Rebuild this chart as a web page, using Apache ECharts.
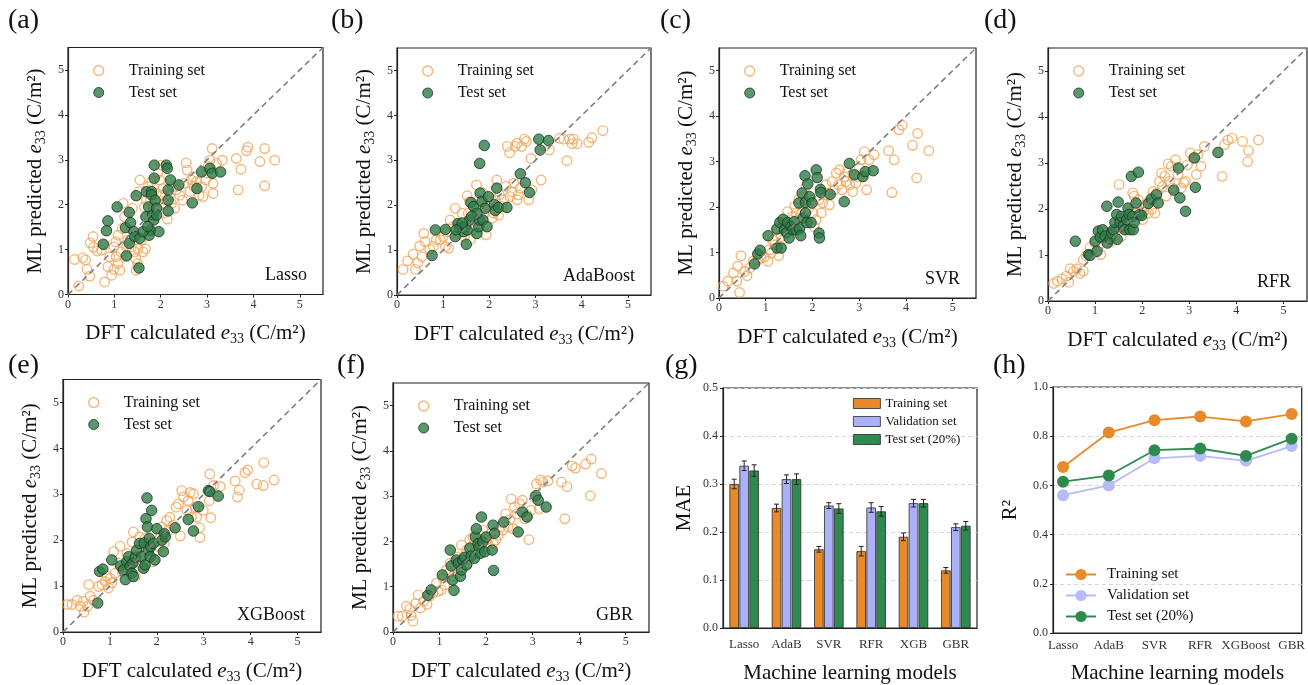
<!DOCTYPE html>
<html><head><meta charset="utf-8">
<script src="https://cdn.jsdelivr.net/npm/echarts@6/dist/echarts.min.js"></script>
<style>html,body{margin:0;padding:0;background:#fff}#c{width:1308px;height:685px}</style>
</head><body><div id="c"></div>
<script>
// ---------- DATA ----------
const lassoTrain = [[0.14,0.78],[0.23,0.19],[0.32,0.82],[0.38,0.77],[0.41,0.56],[0.47,0.41],[0.48,1.15],[0.54,1.29],[0.55,1.05],[0.63,0.97],[0.72,0.99],[0.79,1.10],[0.79,0.28],[0.86,0.62],[0.90,0.84],[0.94,0.43],[0.99,0.56],[0.99,1.06],[1.03,1.17],[1.04,0.84],[1.08,1.32],[1.08,0.69],[1.12,0.54],[1.14,0.95],[1.17,1.47],[1.19,2.03],[1.22,1.73],[1.26,1.06],[1.29,1.21],[1.37,1.06],[1.39,1.92],[1.44,0.95],[1.46,0.80],[1.47,0.54],[1.50,0.69],[1.51,1.02],[1.53,2.29],[1.55,2.55],[1.58,1.21],[1.62,0.95],[1.65,1.95],[1.67,1.02],[1.69,2.10],[1.73,2.40],[1.76,1.66],[1.78,2.10],[1.80,2.51],[1.83,1.95],[1.87,2.03],[1.91,2.25],[1.94,2.70],[1.98,2.55],[2.01,2.88],[2.03,2.21],[2.05,2.36],[2.06,1.81],[2.09,2.03],[2.12,2.10],[2.14,1.68],[2.19,2.21],[2.23,2.03],[2.27,2.40],[2.30,1.92],[2.34,2.33],[2.41,2.21],[2.47,2.10],[2.50,2.47],[2.55,2.93],[2.57,2.77],[2.63,2.29],[2.66,2.55],[2.70,2.62],[2.72,2.40],[2.77,2.51],[2.83,2.21],[2.88,2.40],[2.91,2.18],[2.97,2.55],[3.00,2.70],[3.02,2.85],[3.06,2.99],[3.11,3.25],[3.13,2.47],[3.13,2.25],[3.20,2.92],[3.33,2.99],[3.63,3.03],[3.67,2.33],[3.73,2.79],[3.85,3.20],[3.88,3.28],[4.14,2.96],[4.24,3.25],[4.24,2.42],[4.46,2.99]];
const lassoTest = [[0.76,1.12],[0.83,1.42],[0.86,1.64],[1.06,1.95],[1.26,0.86],[1.53,0.59],[1.24,1.49],[1.32,1.83],[1.35,1.60],[1.32,1.14],[1.42,1.40],[1.47,2.20],[1.44,1.29],[1.55,1.25],[1.68,1.73],[1.69,2.29],[1.74,1.95],[1.80,2.29],[1.80,2.22],[1.78,1.43],[1.75,1.32],[1.83,1.77],[1.85,1.66],[1.86,2.88],[1.86,2.59],[1.88,2.10],[1.91,1.92],[1.96,1.40],[2.12,2.88],[2.14,2.81],[2.16,2.33],[2.16,2.10],[2.16,1.86],[2.21,2.55],[2.39,2.44],[2.68,2.04],[2.78,2.36],[2.88,2.73],[3.06,2.81],[3.11,2.70],[3.29,2.73],[1.62,1.40],[1.72,1.51],[1.91,1.77]];

const adaTrain = [[0.13,0.57],[0.23,0.76],[0.35,0.91],[0.40,0.57],[0.45,0.71],[0.49,1.09],[0.54,0.85],[0.58,1.37],[0.61,1.19],[0.71,1.02],[0.79,1.08],[0.85,1.23],[0.94,1.23],[1.00,1.30],[1.05,1.08],[1.08,1.41],[1.12,1.04],[1.15,1.67],[1.21,1.52],[1.26,1.93],[1.33,1.37],[1.41,1.82],[1.46,1.30],[1.52,2.21],[1.54,1.82],[1.57,2.08],[1.59,1.23],[1.65,1.45],[1.72,2.45],[1.73,1.97],[1.77,2.12],[1.86,2.27],[1.89,1.82],[1.93,1.34],[1.96,1.97],[2.02,2.08],[2.06,1.71],[2.09,1.82],[2.13,2.12],[2.16,2.56],[2.20,1.78],[2.22,2.23],[2.27,1.97],[2.31,2.12],[2.36,2.42],[2.39,3.31],[2.44,3.17],[2.45,2.19],[2.49,2.30],[2.53,2.49],[2.56,3.31],[2.60,3.38],[2.60,2.12],[2.63,2.23],[2.67,2.38],[2.70,3.31],[2.76,3.47],[2.80,3.42],[2.85,2.12],[2.90,3.04],[2.92,2.34],[3.12,2.56],[3.21,3.32],[3.30,3.23],[3.52,3.49],[3.61,3.47],[3.68,2.99],[3.74,3.47],[3.79,3.37],[3.82,3.47],[3.90,3.37],[4.15,3.40],[4.22,3.50],[4.46,3.66]];
const adaTest = [[0.76,0.88],[0.83,1.45],[1.05,1.46],[1.26,1.30],[1.32,1.59],[1.36,1.49],[1.44,1.41],[1.48,1.52],[1.52,1.45],[1.50,1.13],[1.57,1.67],[1.60,2.06],[1.66,1.97],[1.73,1.37],[1.77,1.52],[1.79,1.67],[1.79,2.93],[1.80,2.27],[1.84,2.08],[1.86,1.67],[1.89,3.33],[1.91,1.93],[1.95,1.52],[1.98,2.19],[2.11,2.01],[2.13,1.88],[2.16,2.38],[2.20,1.95],[2.38,1.95],[2.67,2.70],[2.78,2.50],[2.87,2.28],[3.07,3.47],[3.10,3.23],[3.28,3.44],[1.73,1.82],[1.62,1.75],[1.41,1.60],[1.28,1.45]];

const svrTrain = [[0.09,0.26],[0.19,0.37],[0.31,0.55],[0.38,0.37],[0.40,0.70],[0.44,0.12],[0.47,0.93],[0.55,0.59],[0.60,0.49],[0.66,0.66],[0.73,0.81],[0.83,0.84],[0.90,0.88],[0.97,0.90],[1.05,0.81],[1.08,1.06],[1.12,0.99],[1.15,1.28],[1.19,1.17],[1.23,1.50],[1.28,0.93],[1.33,1.35],[1.37,1.28],[1.42,1.43],[1.47,1.90],[1.51,1.59],[1.57,1.79],[1.62,2.01],[1.65,1.87],[1.71,2.17],[1.72,1.76],[1.76,1.87],[1.79,2.23],[1.86,2.45],[1.92,1.98],[1.97,2.16],[2.01,1.87],[2.04,1.57],[2.08,1.72],[2.14,2.16],[2.19,1.87],[2.22,2.09],[2.26,2.27],[2.29,2.49],[2.33,2.31],[2.36,2.05],[2.42,2.56],[2.47,2.38],[2.51,2.75],[2.56,2.49],[2.58,2.82],[2.63,2.38],[2.68,2.67],[2.72,2.56],[2.75,2.78],[2.80,2.49],[2.86,2.34],[2.93,2.53],[2.97,2.67],[3.00,2.86],[3.04,3.04],[3.11,3.22],[3.16,2.38],[3.21,3.04],[3.32,3.15],[3.63,3.24],[3.70,2.32],[3.75,3.04],[3.85,3.70],[3.92,3.80],[4.14,3.36],[4.25,3.62],[4.23,2.64],[4.49,3.24]];
const svrTest = [[0.76,0.75],[0.83,0.97],[0.88,1.05],[1.05,1.37],[1.24,1.10],[1.33,1.10],[1.24,1.52],[1.30,1.66],[1.37,1.73],[1.40,1.50],[1.45,1.44],[1.50,1.32],[1.47,1.66],[1.54,1.57],[1.58,1.50],[1.61,1.68],[1.65,1.50],[1.71,2.09],[1.72,1.52],[1.75,1.37],[1.78,2.31],[1.80,1.76],[1.84,2.69],[1.85,2.10],[1.85,1.87],[1.88,1.66],[1.90,2.51],[1.94,2.23],[1.97,1.66],[1.99,2.09],[2.08,2.82],[2.10,2.65],[2.14,1.43],[2.15,1.32],[2.17,2.39],[2.18,2.32],[2.38,2.28],[2.68,2.12],[2.79,2.96],[2.90,2.71],[3.08,2.67],[3.13,2.78],[3.30,2.80]];

const rfrTrain = [[0.12,0.38],[0.20,0.43],[0.30,0.48],[0.39,0.54],[0.44,0.41],[0.47,0.70],[0.54,0.65],[0.61,0.70],[0.68,0.60],[0.75,0.65],[0.75,0.90],[0.81,0.98],[0.89,1.16],[1.00,1.26],[1.07,1.18],[1.12,1.01],[1.16,1.39],[1.19,1.52],[1.25,1.48],[1.32,1.28],[1.37,1.45],[1.42,1.42],[1.46,1.55],[1.51,2.53],[1.53,1.63],[1.56,1.41],[1.60,1.69],[1.63,1.55],[1.67,1.86],[1.70,1.73],[1.75,1.95],[1.80,2.35],[1.83,2.28],[1.87,2.02],[1.92,2.20],[1.94,1.91],[2.01,1.77],[2.04,1.95],[2.08,2.06],[2.13,1.91],[2.16,2.20],[2.20,1.99],[2.23,2.38],[2.27,1.91],[2.32,2.35],[2.37,2.60],[2.41,2.78],[2.43,2.49],[2.48,2.71],[2.51,2.28],[2.55,2.98],[2.58,2.60],[2.62,2.93],[2.65,2.46],[2.71,3.07],[2.76,2.75],[2.83,2.46],[2.88,2.57],[2.92,2.60],[2.96,2.96],[3.02,3.22],[3.08,3.11],[3.15,2.75],[3.18,3.18],[3.25,2.93],[3.32,3.36],[3.70,2.71],[3.75,3.40],[3.82,3.50],[3.91,3.54],[4.13,3.47],[4.26,3.27],[4.24,3.03],[4.47,3.50]];
const rfrTest = [[0.58,1.30],[0.86,1.01],[0.89,0.99],[1.00,1.30],[1.04,1.08],[1.07,1.52],[1.11,1.39],[1.16,1.55],[1.21,1.41],[1.25,2.06],[1.26,1.26],[1.32,1.35],[1.35,1.48],[1.39,1.55],[1.42,1.71],[1.46,1.88],[1.47,1.34],[1.49,2.15],[1.53,1.71],[1.56,1.84],[1.60,1.63],[1.63,1.55],[1.67,1.77],[1.70,2.02],[1.72,1.88],[1.74,1.55],[1.77,2.71],[1.80,1.84],[1.81,1.55],[1.83,1.71],[1.87,2.13],[1.92,2.80],[1.95,1.88],[1.99,1.86],[2.13,2.12],[2.20,2.22],[2.30,2.31],[2.34,2.13],[2.67,2.41],[2.77,2.89],[2.80,2.24],[2.92,1.95],[3.11,3.11],[3.13,2.47],[3.61,3.23]];

const xgbTrain = [[0.09,0.60],[0.19,0.60],[0.30,0.69],[0.37,0.56],[0.43,0.67],[0.45,0.43],[0.52,0.56],[0.55,1.03],[0.58,0.78],[0.65,0.69],[0.76,0.99],[0.83,1.03],[0.90,1.10],[0.94,1.22],[0.97,0.96],[1.01,1.17],[1.04,1.07],[1.08,1.75],[1.11,1.28],[1.18,1.50],[1.22,1.87],[1.26,1.32],[1.30,1.39],[1.36,1.71],[1.42,1.32],[1.47,1.96],[1.50,2.18],[1.54,1.21],[1.57,1.64],[1.63,2.07],[1.65,1.64],[1.68,1.42],[1.72,1.86],[1.75,2.04],[1.79,1.82],[1.84,1.93],[1.89,2.14],[1.93,1.53],[1.99,1.78],[2.04,1.86],[2.07,2.07],[2.11,2.29],[2.16,1.93],[2.21,2.43],[2.25,2.22],[2.28,2.50],[2.35,2.32],[2.41,2.72],[2.46,2.79],[2.50,2.09],[2.53,3.08],[2.57,2.94],[2.64,2.65],[2.67,2.86],[2.71,3.04],[2.74,2.50],[2.78,3.01],[2.82,2.72],[2.85,2.50],[2.91,2.27],[2.92,2.06],[2.99,2.65],[3.13,3.44],[3.12,2.86],[3.15,2.49],[3.21,3.19],[3.35,3.17],[3.67,3.29],[3.72,2.94],[3.76,3.09],[3.88,3.47],[3.94,3.53],[4.13,3.22],[4.27,3.19],[4.28,3.69],[4.50,3.31]];
const xgbTest = [[0.74,0.63],[0.78,1.32],[0.85,1.37],[1.04,1.57],[1.23,1.44],[1.29,1.35],[1.33,1.14],[1.36,1.53],[1.40,1.64],[1.43,1.44],[1.47,1.28],[1.49,1.50],[1.50,1.21],[1.54,1.63],[1.57,1.78],[1.63,1.93],[1.68,1.64],[1.72,1.39],[1.73,1.94],[1.75,1.46],[1.77,2.47],[1.79,2.92],[1.80,2.29],[1.82,1.78],[1.84,2.04],[1.86,1.64],[1.87,1.86],[1.89,2.65],[1.93,1.93],[1.96,1.57],[2.00,2.25],[2.11,2.00],[2.14,1.75],[2.16,2.14],[2.18,2.07],[2.39,2.27],[2.67,2.45],[2.78,2.20],[2.89,2.73],[3.10,3.08],[3.13,3.06],[3.31,2.96]];

const gbrTrain = [[0.11,0.35],[0.20,0.35],[0.29,0.57],[0.36,0.51],[0.39,0.36],[0.43,0.24],[0.49,0.63],[0.54,0.82],[0.59,0.53],[0.66,0.68],[0.73,0.61],[0.79,0.79],[0.86,0.86],[0.93,1.08],[0.97,0.90],[1.04,0.93],[1.07,1.19],[1.11,1.04],[1.15,1.37],[1.20,1.30],[1.23,1.52],[1.29,1.23],[1.33,1.46],[1.38,1.66],[1.42,1.55],[1.47,1.92],[1.52,1.66],[1.58,1.81],[1.61,1.52],[1.65,2.04],[1.68,1.88],[1.72,2.10],[1.75,1.96],[1.83,2.18],[1.86,1.85],[1.93,2.25],[2.00,1.96],[2.06,2.07],[2.11,2.18],[2.15,1.96],[2.21,2.03],[2.26,2.14],[2.31,2.32],[2.36,2.25],[2.42,2.61],[2.47,2.32],[2.51,2.48],[2.54,2.94],[2.58,2.28],[2.61,2.76],[2.66,2.61],[2.72,2.83],[2.78,2.91],[2.83,2.50],[2.88,2.58],[2.92,2.04],[2.97,2.69],[3.04,2.98],[3.08,3.27],[3.14,2.72],[3.17,3.36],[3.22,3.31],[3.33,3.34],[3.62,3.31],[3.69,2.50],[3.74,3.21],[3.85,3.67],[3.92,3.62],[4.14,3.71],[4.26,3.82],[4.24,3.01],[4.48,3.50]];
const gbrTest = [[0.75,0.81],[0.82,0.93],[1.06,1.26],[1.23,1.81],[1.25,1.46],[1.28,1.15],[1.31,0.92],[1.36,1.59],[1.40,1.52],[1.45,1.23],[1.47,1.37],[1.50,1.59],[1.54,1.65],[1.58,1.48],[1.65,1.85],[1.68,1.68],[1.75,1.63],[1.77,2.10],[1.79,2.28],[1.83,1.95],[1.85,1.87],[1.88,1.74],[1.90,2.54],[1.93,1.99],[1.97,1.77],[2.00,2.10],[2.13,1.81],[2.15,2.36],[2.16,1.36],[2.18,2.18],[2.38,2.43],[2.69,2.21],[2.78,2.65],[2.88,2.54],[3.07,3.01],[3.12,2.91],[3.29,2.76]];

const parityTicks = [0, 1, 2, 3, 4, 5];
const parityRange = [0, 5.5];

const barModels = ['Lasso', 'AdaB', 'SVR', 'RFR', 'XGB', 'GBR'];
const maeTrain = [0.300, 0.250, 0.164, 0.160, 0.190, 0.120];
const maeTrainErr = [0.010, 0.008, 0.006, 0.010, 0.008, 0.006];
const maeVal = [0.338, 0.310, 0.255, 0.251, 0.260, 0.210];
const maeValErr = [0.010, 0.009, 0.006, 0.010, 0.008, 0.007];
const maeTest = [0.328, 0.310, 0.249, 0.243, 0.260, 0.213];
const maeTestErr = [0.012, 0.011, 0.010, 0.010, 0.008, 0.009];

const r2Models = ['Lasso', 'AdaB', 'SVR', 'RFR', 'XGBoost', 'GBR'];
const r2Train = [0.675, 0.815, 0.865, 0.880, 0.860, 0.890];
const r2Val = [0.560, 0.600, 0.710, 0.720, 0.700, 0.760];
const r2Test = [0.615, 0.640, 0.743, 0.750, 0.720, 0.790];

// ---------- STYLE / LAYOUT ----------
const FONT = '"Liberation Serif", "DejaVu Serif", serif';
const ORANGE_S = '#F2A65A';
const GREEN_S = '#2F7D48';
const ORANGE = '#E98A2A';
const LAV = '#AAB1F6';
const GREEN = '#2E8A4E';

const scatterPanels = [
  {tag:'(a)', model:'Lasso',    train:lassoTrain, test:lassoTest, box:[68, 47.5, 255, 247], tagPos:[8, 21]},
  {tag:'(b)', model:'AdaBoost', train:adaTrain,   test:adaTest,   box:[397, 48, 254, 247], tagPos:[331, 21]},
  {tag:'(c)', model:'SVR',      train:svrTrain,   test:svrTest,   box:[719, 48, 257, 250], tagPos:[660, 21]},
  {tag:'(d)', model:'RFR',      train:rfrTrain,   test:rfrTest,   box:[1048, 48, 259, 253], tagPos:[984, 21]},
  {tag:'(e)', model:'XGBoost',  train:xgbTrain,   test:xgbTest,   box:[63, 379.5, 258, 255], tagPos:[8, 366]},
  {tag:'(f)', model:'GBR',      train:gbrTrain,   test:gbrTest,   box:[393, 383, 256, 251], tagPos:[337, 366]}
];
const gBox = [723, 388, 254, 249];
const hBox = [1053, 387, 252, 248];

const tickLabel = {fontFamily: FONT, fontSize: 12, color: '#333'};
const richName = {
  t: {fontFamily: FONT, fontSize: 21, color: '#111', lineHeight: 26},
  i: {fontFamily: FONT, fontSize: 21, fontStyle: 'italic', color: '#111', lineHeight: 26},
  s: {fontFamily: FONT, fontSize: 14, color: '#111', lineHeight: 14, verticalAlign: 'bottom'}
};

const option = {
  animation: false,
  backgroundColor: '#fff',
  textStyle: {fontFamily: FONT},
  grid: [], xAxis: [], yAxis: [], series: [], legend: [], graphic: []
};

scatterPanels.forEach((p, i) => {
  const [l, t, w, h] = p.box;
  option.grid.push({left: l, top: t, width: w, height: h, show: true, borderColor: '#222', borderWidth: 1.2, backgroundColor: 'transparent'});
  const common = {
    gridIndex: i, type: 'value', min: parityRange[0], max: parityRange[1],
    axisLine: {show: true, onZero: false, lineStyle: {color: '#222', width: 1.2}},
    axisTick: {show: true, length: 3, customValues: parityTicks, lineStyle: {color: '#222'}},
    axisLabel: Object.assign({customValues: parityTicks, margin: 4}, tickLabel),
    splitLine: {show: false},
    nameLocation: 'middle',
    nameTextStyle: {rich: richName}
  };
  option.xAxis.push(Object.assign({}, common, {
    name: '{t|DFT calculated }{i|e}{s|33}{t| (C/m²)}', nameGap: 26
  }));
  option.yAxis.push(Object.assign({}, common, {
    name: '{t|ML predicted }{i|e}{s|33}{t| (C/m²)}', nameGap: 20, nameRotate: 90
  }));
  option.series.push({
    type: 'line', xAxisIndex: i, yAxisIndex: i, silent: true, symbol: 'none', z: 5,
    data: parityRange.map(v => [v, v]),
    lineStyle: {color: '#7f7f7f', width: 1.6, type: [6, 4]}
  });
  option.series.push({
    name: 'Training set', type: 'scatter', xAxisIndex: i, yAxisIndex: i, z: 2,
    data: p.train, symbolSize: 9.5,
    itemStyle: {color: 'rgba(255,255,255,0)', borderColor: ORANGE_S, borderWidth: 1.4}
  });
  option.series.push({
    name: 'Test set', type: 'scatter', xAxisIndex: i, yAxisIndex: i, z: 3,
    data: p.test, symbolSize: 10.5,
    itemStyle: {color: GREEN_S, borderColor: '#1a3321', borderWidth: 1}
  });
  option.legend.push({
    orient: 'vertical', left: l + 20, top: t + 10, itemWidth: 50, itemHeight: 10, itemGap: 6,
    selectedMode: false,
    textStyle: {fontFamily: FONT, fontSize: 16, color: '#111'},
    data: [
      {name: 'Training set', icon: 'circle', itemStyle: {color: 'rgba(255,255,255,0)', borderColor: ORANGE_S, borderWidth: 1.4}},
      {name: 'Test set', icon: 'circle', itemStyle: {color: GREEN_S, borderColor: '#1a3321', borderWidth: 1}}
    ]
  });
  option.graphic.push({type: 'text', x: p.tagPos[0], y: p.tagPos[1], style: {text: p.tag, font: '28px ' + FONT, fill: '#111', verticalAlign: 'middle'}});
  option.graphic.push({type: 'text', x: l + w - 16, y: t + h - 19, style: {text: p.model, font: '18px ' + FONT, fill: '#111', align: 'right', verticalAlign: 'middle'}});
});

// ---------- (g) MAE bar chart ----------
const gi = 6;
option.grid.push({left: gBox[0], top: gBox[1], width: gBox[2], height: gBox[3], show: true, borderColor: '#222', borderWidth: 1.2});
option.xAxis.push({
  gridIndex: gi, type: 'category', data: barModels,
  axisLine: {onZero: false, lineStyle: {color: '#222', width: 1.2}}, axisTick: {show: false},
  axisLabel: {fontFamily: FONT, fontSize: 13, color: '#333', margin: 10},
  name: 'Machine learning models', nameLocation: 'middle', nameGap: 35,
  nameTextStyle: {fontFamily: FONT, fontSize: 21, color: '#111'}
});
option.yAxis.push({
  gridIndex: gi, type: 'value', min: 0, max: 0.5, interval: 0.1,
  axisLine: {show: true, onZero: false, lineStyle: {color: '#222', width: 1.2}},
  axisTick: {show: true, length: 3, lineStyle: {color: '#222'}},
  axisLabel: {fontFamily: FONT, fontSize: 12, color: '#333', margin: 5, formatter: v => v.toFixed(1)},
  splitLine: {show: true, lineStyle: {color: '#d6d6d6', type: [4, 3], width: 1}},
  name: 'MAE', nameLocation: 'middle', nameGap: 28, nameRotate: 90,
  nameTextStyle: {fontFamily: FONT, fontSize: 21, color: '#111'}
});
const BW = 9.5, GAPF = 0.05, STEP = BW * (1 + GAPF);
const barDefs = [
  {name: 'Training set\u200B', vals: maeTrain, errs: maeTrainErr, color: ORANGE, off: -STEP},
  {name: 'Validation set\u200B', vals: maeVal, errs: maeValErr, color: LAV, off: 0},
  {name: 'Test set (20%)\u200B', vals: maeTest, errs: maeTestErr, color: GREEN, off: STEP}
];
barDefs.forEach(b => {
  option.series.push({
    name: b.name, type: 'bar', xAxisIndex: gi, yAxisIndex: gi, data: b.vals,
    barWidth: BW, barGap: (GAPF * 100) + '%',
    itemStyle: {color: b.color, borderColor: '#2a2a2a', borderWidth: 0.8}
  });
});
barDefs.forEach(b => {
  option.series.push({
    type: 'custom', xAxisIndex: gi, yAxisIndex: gi, z: 10, silent: true,
    data: b.vals.map((v, j) => [j, v, b.errs[j]]),
    encode: {x: 0, y: 1},
    renderItem: (params, api) => {
      const x = api.value(0), y = api.value(1), e = api.value(2);
      const top = api.coord([x, y + e]);
      const bot = api.coord([x, y - e]);
      const cx = top[0] + b.off, cap = 2.5;
      const st = {stroke: '#222', lineWidth: 1};
      return {type: 'group', children: [
        {type: 'line', shape: {x1: cx, y1: top[1], x2: cx, y2: bot[1]}, style: st},
        {type: 'line', shape: {x1: cx - cap, y1: top[1], x2: cx + cap, y2: top[1]}, style: st},
        {type: 'line', shape: {x1: cx - cap, y1: bot[1], x2: cx + cap, y2: bot[1]}, style: st}
      ]};
    }
  });
});
option.legend.push({
  orient: 'vertical', left: 848, top: 392, itemWidth: 27, itemHeight: 10, itemGap: 5,
  selectedMode: false, icon: 'rect',
  textStyle: {fontFamily: FONT, fontSize: 13, color: '#111'},
  data: barDefs.map(b => ({name: b.name, itemStyle: {color: b.color, borderColor: '#2a2a2a', borderWidth: 0.8}}))
});
option.graphic.push({type: 'text', x: 665, y: 366, style: {text: '(g)', font: '28px ' + FONT, fill: '#111', verticalAlign: 'middle'}});

// ---------- (h) R2 line chart ----------
const hi = 7;
option.grid.push({left: hBox[0], top: hBox[1], width: hBox[2], height: hBox[3], show: true, borderColor: '#222', borderWidth: 1.2});
const r2Idx = r2Models.map((m, i) => i);
option.xAxis.push({
  gridIndex: hi, type: 'value', min: -0.22, max: 5.22,
  axisLine: {show: true, onZero: false, lineStyle: {color: '#222', width: 1.2}},
  axisTick: {show: false},
  axisLabel: {customValues: r2Idx, fontFamily: FONT, fontSize: 13, color: '#333', margin: 6, formatter: v => r2Models[Math.round(v)]},
  splitLine: {show: false},
  name: 'Machine learning models', nameLocation: 'middle', nameGap: 30,
  nameTextStyle: {fontFamily: FONT, fontSize: 21, color: '#111'}
});
option.yAxis.push({
  gridIndex: hi, type: 'value', min: 0, max: 1, interval: 0.2,
  axisLine: {show: true, onZero: false, lineStyle: {color: '#222', width: 1.2}},
  axisTick: {show: true, length: 3, lineStyle: {color: '#222'}},
  axisLabel: {fontFamily: FONT, fontSize: 12, color: '#333', margin: 5, formatter: v => v.toFixed(1)},
  splitLine: {show: true, lineStyle: {color: '#d6d6d6', type: [4, 3], width: 1}},
  name: 'R²', nameLocation: 'middle', nameGap: 32, nameRotate: 90,
  nameTextStyle: {fontFamily: FONT, fontSize: 21, color: '#111'}
});
const lineDefs = [
  {name: 'Training set\u200C', vals: r2Train, color: ORANGE, z: 4},
  {name: 'Validation set\u200C', vals: r2Val, color: '#B6BBFA', z: 2},
  {name: 'Test set (20%)\u200C', vals: r2Test, color: GREEN, z: 3}
];
lineDefs.forEach(d => {
  option.series.push({
    name: d.name, type: 'line', xAxisIndex: hi, yAxisIndex: hi, z: d.z,
    data: d.vals.map((v, i) => [r2Idx[i], v]),
    symbol: 'circle', symbolSize: 12, showSymbol: true,
    lineStyle: {color: d.color, width: 1.8},
    itemStyle: {color: d.color}
  });
});
option.legend.push({
  orient: 'vertical', left: 1060, top: 562, itemWidth: 30, itemHeight: 14, itemGap: 6,
  selectedMode: false,
  textStyle: {fontFamily: FONT, fontSize: 15, color: '#111', padding: [0, 0, 0, 6]},
  data: lineDefs.map(d => d.name)
});
option.graphic.push({type: 'text', x: 993, y: 366, style: {text: '(h)', font: '28px ' + FONT, fill: '#111', verticalAlign: 'middle'}});

const chart = echarts.init(document.getElementById('c'), null, {renderer: 'canvas'});
chart.setOption(option);
</script>
</body></html>
